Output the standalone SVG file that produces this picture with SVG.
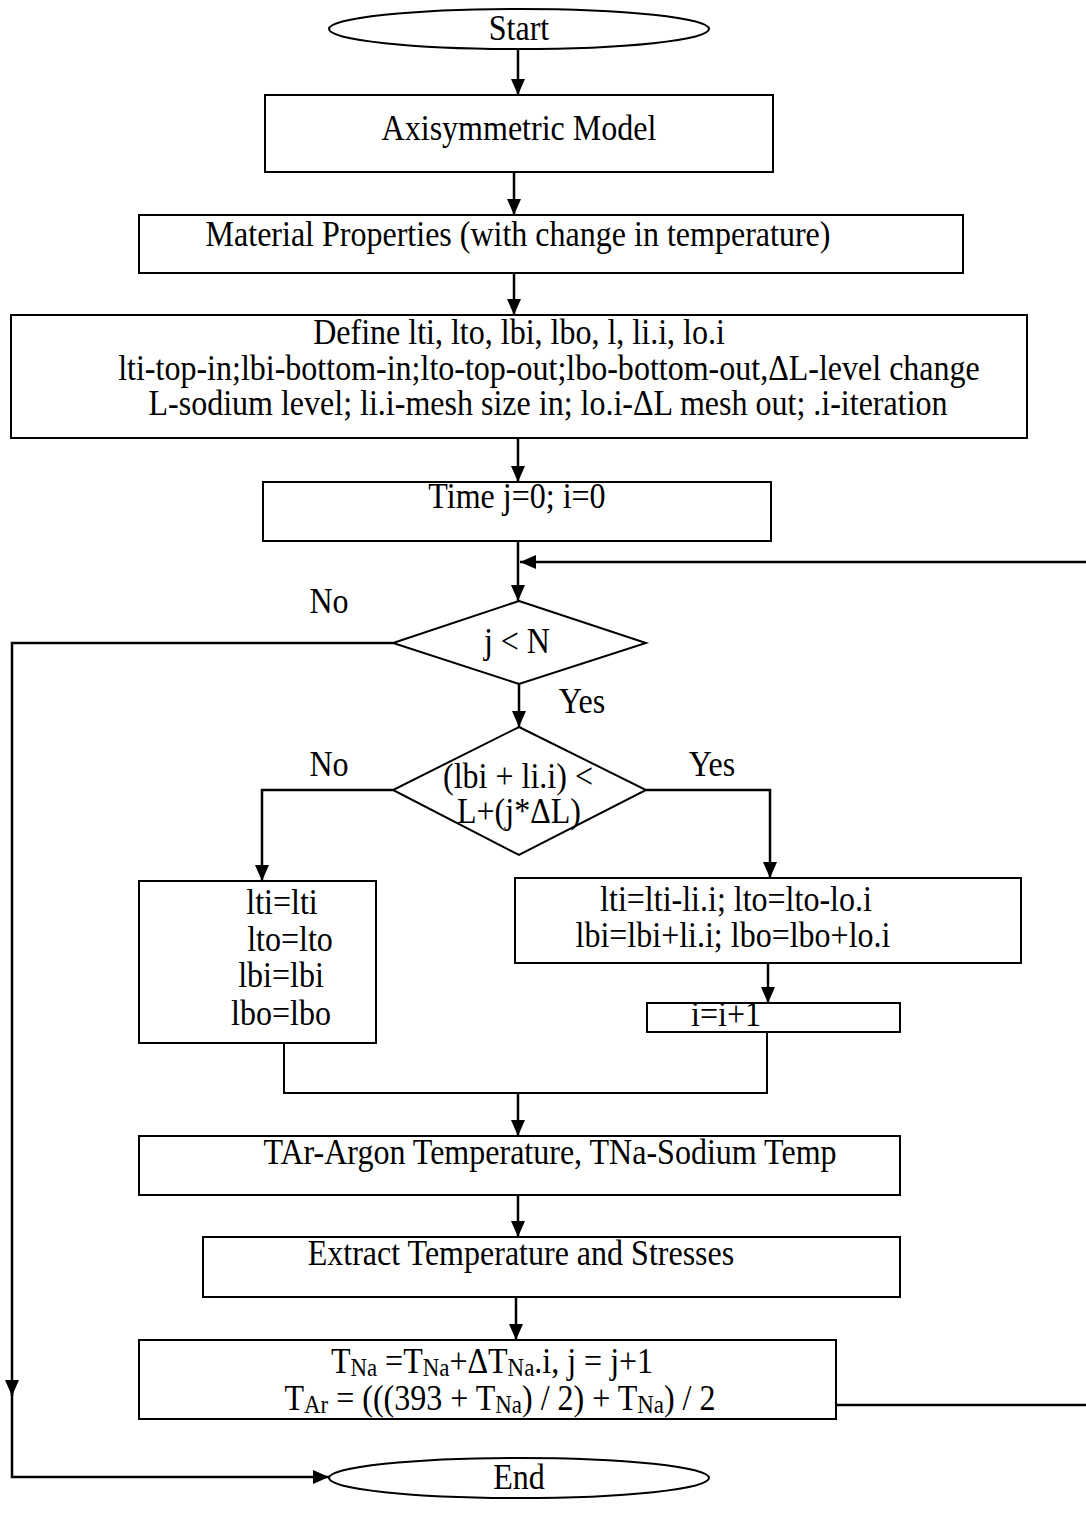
<svg xmlns="http://www.w3.org/2000/svg" width="1086" height="1515" viewBox="0 0 1086 1515">
<style>
.box{fill:#fff;stroke:#000;stroke-width:2}
.t{font-family:"Liberation Serif","Times New Roman",serif;font-size:35px;fill:#000;text-anchor:middle;transform-box:fill-box;transform-origin:center;transform:scaleX(0.915)}
.ln{fill:none;stroke:#000;stroke-width:2.5}
.sub{font-size:25px}
</style>
<defs>
<marker id="ah" markerUnits="userSpaceOnUse" markerWidth="16" markerHeight="14" refX="16" refY="7" orient="auto">
<path d="M0,0 L16,7 L0,14 z" fill="#000"/>
</marker>
</defs>
<rect width="1086" height="1515" fill="#fff"/>
<g id="connectors">
<path class="ln" d="M518,49 V95" marker-end="url(#ah)"/>
<path class="ln" d="M514,172 V215" marker-end="url(#ah)"/>
<path class="ln" d="M514,273 V315" marker-end="url(#ah)"/>
<path class="ln" d="M518,438 V482" marker-end="url(#ah)"/>
<path class="ln" d="M518,541 V601" marker-end="url(#ah)"/>
<path class="ln" d="M836,1405 H1090 V562 H520" marker-end="url(#ah)"/>
<path class="ln" d="M393,643 H12 V1396" marker-end="url(#ah)"/>
<path class="ln" d="M12,1390 V1477 H329" marker-end="url(#ah)"/>
<path class="ln" d="M519,684 V727" marker-end="url(#ah)"/>
<path class="ln" d="M393,790 H262 V881" marker-end="url(#ah)"/>
<path class="ln" d="M646,790 H770 V878" marker-end="url(#ah)"/>
<path class="ln" d="M768,963 V1003" marker-end="url(#ah)"/>
<path class="ln" style="stroke-width:2" d="M284,1043 V1093 H767 V1032"/>
<path class="ln" d="M518,1093 V1136" marker-end="url(#ah)"/>
<path class="ln" d="M518,1195 V1237" marker-end="url(#ah)"/>
<path class="ln" d="M516,1297 V1340" marker-end="url(#ah)"/>
<text class="t" x="329" y="613">No</text>
<text class="t" x="582" y="713">Yes</text>
<text class="t" x="329" y="776">No</text>
<text class="t" x="712" y="776">Yes</text>
</g>
<g id="start">
<ellipse class="box" cx="519" cy="29" rx="190" ry="20"/>
<text class="t" x="519" y="40">Start</text>
</g>
<g id="axisym">
<rect class="box" x="265" y="95" width="508" height="77"/>
<text class="t" x="519" y="140">Axisymmetric Model</text>
</g>
<g id="material">
<rect class="box" x="139" y="215" width="824" height="58"/>
<text class="t" x="518" y="246">Material Properties (with change in temperature)</text>
</g>
<g id="define">
<rect class="box" x="11" y="315" width="1016" height="123"/>
<text class="t" x="519" y="344">Define lti, lto, lbi, lbo, l, li.i, lo.i</text>
<text class="t" x="549" y="380">lti-top-in;lbi-bottom-in;lto-top-out;lbo-bottom-out,ΔL-level change</text>
<text class="t" x="548" y="415">L-sodium level; li.i-mesh size in; lo.i-ΔL mesh out; .i-iteration</text>
</g>
<g id="time">
<rect class="box" x="263" y="482" width="508" height="59"/>
<text class="t" x="517" y="508">Time j=0; i=0</text>
</g>
<g id="decision1">
<polygon class="box" points="519,601 646,643 519,684 393,643"/>
<text class="t" x="517" y="653">j &lt; N</text>
</g>
<g id="decision2">
<polygon class="box" points="519,727 646,790 519,855 393,790"/>
<text class="t" x="518" y="788">(lbi + li.i) &lt;</text>
<text class="t" x="519" y="823">L+(j*ΔL)</text>
</g>
<g id="noupdate">
<rect class="box" x="139" y="881" width="237" height="162"/>
<text class="t" x="282" y="914">lti=lti</text>
<text class="t" x="290" y="951">lto=lto</text>
<text class="t" x="281" y="987">lbi=lbi</text>
<text class="t" x="281" y="1025">lbo=lbo</text>
</g>
<g id="update">
<rect class="box" x="515" y="878" width="506" height="85"/>
<text class="t" x="736" y="911">lti=lti-li.i; lto=lto-lo.i</text>
<text class="t" x="733" y="947">lbi=lbi+li.i; lbo=lbo+lo.i</text>
</g>
<g id="incr">
<rect class="box" x="647" y="1003" width="253" height="29"/>
<text class="t" x="726" y="1026">i=i+1</text>
</g>
<g id="temps">
<rect class="box" x="139" y="1136" width="761" height="59"/>
<text class="t" x="550" y="1164">TAr-Argon Temperature, TNa-Sodium Temp</text>
</g>
<g id="extract">
<rect class="box" x="203" y="1237" width="697" height="60"/>
<text class="t" x="521" y="1265">Extract Temperature and Stresses</text>
</g>
<g id="updateT">
<rect class="box" x="139" y="1340" width="697" height="79"/>
<text class="t" x="492" y="1373">T<tspan class="sub" dy="3">Na</tspan><tspan dy="-3"> =T</tspan><tspan class="sub" dy="3">Na</tspan><tspan dy="-3">+ΔT</tspan><tspan class="sub" dy="3">Na</tspan><tspan dy="-3">.i, j = j+1</tspan></text>
<text class="t" x="500" y="1410">T<tspan class="sub" dy="3">Ar</tspan><tspan dy="-3"> = (((393 + T</tspan><tspan class="sub" dy="3">Na</tspan><tspan dy="-3">) / 2) + T</tspan><tspan class="sub" dy="3">Na</tspan><tspan dy="-3">) / 2</tspan></text>
</g>
<g id="end">
<ellipse class="box" cx="519" cy="1478" rx="190" ry="20"/>
<text class="t" x="519" y="1489">End</text>
</g>
</svg>
